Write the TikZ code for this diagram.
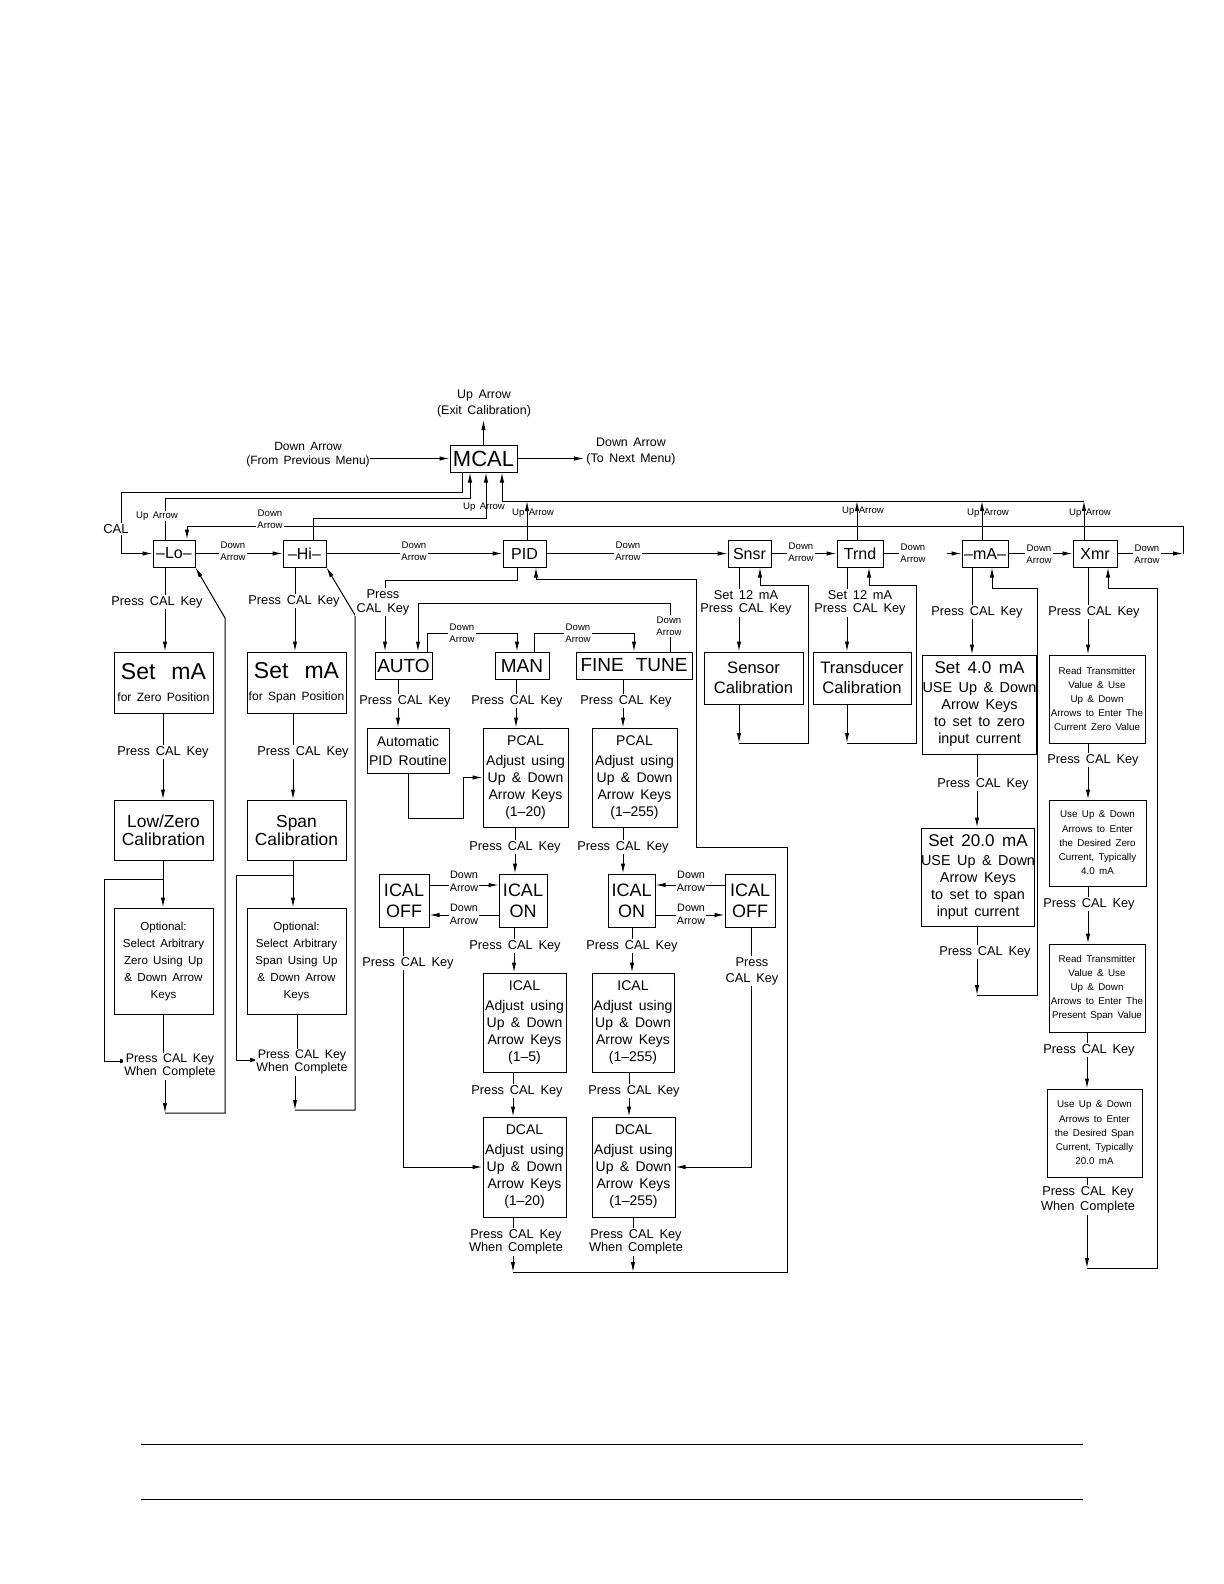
\documentclass[tikz,border=0pt]{standalone}
\usepackage{fontspec}
\setmainfont{Liberation Sans}
\usetikzlibrary{arrows.meta}
\newcommand\myfs[2]{\fontsize{#1}{#2}\selectfont\spaceskip=0.45em plus 0.1em\relax}
\begin{document}
\begin{tikzpicture}[x=0.5pt,y=-0.5pt,line width=0.5pt,
  box/.style={draw,line width=0.5pt,inner sep=0pt,align=center},
  arr/.style={-{Latex[length=5pt,width=2.2pt]}},
  lbl/.style={fill=white,inner sep=0.8pt,align=center,font=\myfs{6.4}{6.4}},
  dn/.style={fill=white,inner sep=0.5pt,align=center,font=\myfs{4.8}{6.2}},
  dnb/.style={fill=white,inner sep=0.5pt,align=center,font=\myfs{5.4}{6.4}},
  up/.style={inner sep=0pt,font=\myfs{4.8}{6}},
  key/.style={box,minimum height=13.5pt,font=\myfs{8}{9}},
  sel/.style={box,minimum height=13.5pt,font=\myfs{9.5}{10}},
  adj/.style={box,font=\myfs{7}{8.5}},
  xs/.style={box,font=\myfs{4.9}{7.1}}
]
\useasboundingbox (0,0) rectangle (1224,1584);
\fill[white] (0,0) rectangle (1224,1584);

% ---------- top ----------
\node[box,minimum width=33.5pt,minimum height=13.5pt,font=\myfs{11}{12}] (mcal) at (483.5,458.5) {MCAL};
\node[inner sep=0pt,align=center,font=\myfs{6.2}{8}] (exit) at (484,404) {Up Arrow\\(Exit Calibration)};
\node[inner sep=0pt,align=center,font=\myfs{6}{6.8}] (prev) at (308,454.5) {Down Arrow\\(From Previous Menu)};
\node[inner sep=0pt,align=center,font=\myfs{6.2}{8}] (next) at (631,452) {Down Arrow\\(To Next Menu)};

% ---------- main row ----------
\node[key,minimum width=21pt] (lo) at (174,553.5) {–Lo–};
\node[key,minimum width=21.5pt] (hi) at (304.5,553.5) {–Hi–};
\node[key,minimum width=21.5pt] (pid) at (524.5,553.5) {PID};
\node[key,minimum width=21.5pt] (snsr) at (749.5,553.5) {Snsr};
\node[key,minimum width=23pt] (trnd) at (860,553.5) {Trnd};
\node[key,minimum width=23pt] (ma) at (985,553.5) {–mA–};
\node[key,minimum width=22pt] (xmr) at (1095,553.5) {Xmr};

% ---------- Lo / Hi columns ----------
\node[box,minimum width=49.5pt,minimum height=30.5pt,font=\myfs{6}{11}] (setz) at (163.5,682.5) {\myfs{11.5}{12}Set\hspace{8pt}mA\\\myfs{6}{7}for Zero Position};
\node[box,minimum width=49.5pt,minimum height=30pt,font=\myfs{8.7}{9}] (lowz) at (163.5,830) {Low/Zero\\Calibration};
\node[box,minimum width=49.5pt,minimum height=53pt,font=\myfs{5.8}{8.5}] (optz) at (163.5,961) {Optional:\\Select Arbitrary\\Zero Using Up\\\& Down Arrow\\Keys};
\node[box,minimum width=49.5pt,minimum height=30.5pt,font=\myfs{6}{11}] (sets) at (296.5,682.5) {\myfs{11.5}{12}Set\hspace{8pt}mA\\\myfs{6}{7}for Span Position};
\node[box,minimum width=49.5pt,minimum height=30pt,font=\myfs{8.7}{9}] (span) at (296.5,830) {Span\\Calibration};
\node[box,minimum width=49.5pt,minimum height=53pt,font=\myfs{5.8}{8.5}] (opts) at (296.5,961) {Optional:\\Select Arbitrary\\Span Using Up\\\& Down Arrow\\Keys};

% ---------- PID column ----------
\node[sel,minimum width=28.5pt] (auto) at (403.5,665.5) {AUTO};
\node[sel,minimum width=27pt] (man) at (522,665.5) {MAN};
\node[sel,minimum width=58pt] (fine) at (634,665.5) {FINE\hspace{6pt}TUNE};
\node[box,minimum width=41pt,minimum height=22.5pt,font=\myfs{7}{9.5}] (apid) at (408,750.5) {Automatic\\PID Routine};
\node[adj,minimum width=42.5pt,minimum height=49.5pt] (pcal1) at (525.5,777.5) {PCAL\\[1.5pt]Adjust using\\Up \& Down\\Arrow Keys\\(1–20)};
\node[adj,minimum width=42.5pt,minimum height=49.5pt] (pcal2) at (634.5,777.5) {PCAL\\[1.5pt]Adjust using\\Up \& Down\\Arrow Keys\\(1–255)};
\node[box,minimum width=25pt,minimum height=26.5pt,font=\myfs{9}{10.5}] (off1) at (404,900.5) {ICAL\\OFF};
\node[box,minimum width=24pt,minimum height=26.5pt,font=\myfs{9}{10.5}] (on1) at (523,900.5) {ICAL\\ON};
\node[box,minimum width=23.5pt,minimum height=26.5pt,font=\myfs{9}{10.5}] (on2) at (631.5,900.5) {ICAL\\ON};
\node[box,minimum width=25pt,minimum height=26.5pt,font=\myfs{9}{10.5}] (off2) at (750,900.5) {ICAL\\OFF};
\node[adj,minimum width=41.5pt,minimum height=49.5pt] (ical1) at (524.5,1022.5) {ICAL\\[1.5pt]Adjust using\\Up \& Down\\Arrow Keys\\(1–5)};
\node[adj,minimum width=41pt,minimum height=49.5pt] (ical2) at (633,1022.5) {ICAL\\[1.5pt]Adjust using\\Up \& Down\\Arrow Keys\\(1–255)};
\node[adj,minimum width=41.5pt,minimum height=50pt] (dcal1) at (524.5,1167) {DCAL\\[1.5pt]Adjust using\\Up \& Down\\Arrow Keys\\(1–20)};
\node[adj,minimum width=41.5pt,minimum height=50pt] (dcal2) at (633.5,1167) {DCAL\\[1.5pt]Adjust using\\Up \& Down\\Arrow Keys\\(1–255)};

% ---------- Snsr / Trnd ----------
\node[box,minimum width=49.5pt,minimum height=26pt,font=\myfs{8.3}{10}] (sens) at (753.5,678) {Sensor\\Calibration};
\node[box,minimum width=49pt,minimum height=26pt,font=\myfs{8.3}{10}] (trans) at (862,678) {Transducer\\Calibration};

% ---------- mA ----------
\node[box,minimum width=51.5pt,minimum height=49.5pt,font=\myfs{7.2}{8.5}] (set4) at (979.5,704.5) {\myfs{8.5}{9}Set 4.0 mA\\[1pt]USE Up \& Down\\Arrow Keys\\to set to zero\\input current};
\node[box,minimum width=51pt,minimum height=49pt,font=\myfs{7.2}{8.5}] (set20) at (978,877) {\myfs{8.5}{9}Set 20.0 mA\\[1pt]USE Up \& Down\\Arrow Keys\\to set to span\\input current};

% ---------- Xmr ----------
\node[xs,minimum width=48pt,minimum height=44pt] (x1) at (1097,699) {Read Transmitter\\Value \& Use\\Up \& Down\\Arrows to Enter The\\Current Zero Value};
\node[xs,minimum width=48.5pt,minimum height=43pt] (x2) at (1097.5,843) {Use Up \& Down\\Arrows to Enter\\the Desired Zero\\Current, Typically\\4.0 mA};
\node[xs,minimum width=48pt,minimum height=44pt] (x3) at (1097,988) {Read Transmitter\\Value \& Use\\Up \& Down\\Arrows to Enter The\\Present Span Value};
\node[xs,minimum width=47.5pt,minimum height=44pt] (x4) at (1094.5,1133) {Use Up \& Down\\Arrows to Enter\\the Desired Span\\Current, Typically\\20.0 mA};

% ================= connectors =================
% top
\draw[arr,shorten >=1pt] (mcal.north) -- (mcal.north |- exit.south);
\draw[arr] (prev.east |- mcal.west) -- (mcal.west);
\draw[arr,shorten >=1pt] (mcal.east) -- (next.west |- mcal.east);
\draw[arr] (462,0 |- mcal.south) -- (462,492) -| (121,0 |- lo.west) -- (lo.west);
\draw[arr] (165,0 |- lo.north) |- (470,498) -- (470,0 |- mcal.south);
\draw[arr] (313,0 |- hi.north) |- (486,518) -- (486,0 |- mcal.south);
\draw[arr] (1084,501) -| (502,0 |- mcal.south);
\draw[arr] (527,0 |- pid.north) -- (527,501);
\draw[arr] (857,0 |- trnd.north) -- (857,501);
\draw[arr] (982,0 |- ma.north) -- (982,501);
\draw[arr] (1084,0 |- xmr.north) -- (1084,501);
\draw[arr] (xmr.east) -- (1183,0 |- xmr.east);
\draw[arr] (1183,0 |- xmr.east) |- (187,526) -- (187,0 |- lo.north);
% main row
\draw[arr] (lo.east) -- (hi.west);
\draw[arr] (hi.east) -- (pid.west);
\draw[arr] (pid.east) -- (snsr.west);
\draw[arr] (snsr.east) -- (trnd.west);
\draw (trnd.east) -- (925,0 |- trnd.east);
\draw[arr] (947,0 |- ma.west) -- (ma.west);
\draw[arr] (ma.east) -- (xmr.west);

% Lo column
\draw[arr] (165,0 |- lo.south) -- (165,0 |- setz.north);
\draw[arr] (163,0 |- setz.south) -- (163,0 |- lowz.north);
\draw[arr] (163,0 |- lowz.south) -- (163,0 |- optz.north);
\draw[arr] (163,879) -| (104,1061) -- (130,1061);
\draw (163,0 |- optz.south) -- (163,1062);
\draw[arr] (165,1080) -- (165,1113);
\draw[arr] (165,1113) -| (225,618) -- (lo.south east);
% Hi column
\draw[arr] (295,0 |- hi.south) -- (295,0 |- sets.north);
\draw[arr] (293,0 |- sets.south) -- (293,0 |- span.north);
\draw[arr] (293,0 |- span.south) -- (293,0 |- opts.north);
\draw[arr] (293,875) -| (236,1060) -- (260,1060);
\draw (297,0 |- opts.south) -- (297,1055);
\draw[arr] (295,1076) -- (295,1110);
\draw[arr] (295,1110) -| (355,615) -- (hi.south east);

% PID column
\draw[arr] (517,0 |- pid.south) |- (385,580) -- (385,0 |- auto.north);
\draw[arr] (670,0 |- fine.north) |- (418,603) -- (418,0 |- auto.north);
\draw[arr] (427,0 |- auto.north) |- (517,633) -- (517,0 |- man.north);
\draw[arr] (534,0 |- man.north) |- (634,633) -- (634,0 |- fine.north);
\draw[arr] (398,0 |- auto.south) -- (398,0 |- apid.north);
\draw[arr] (408,0 |- apid.south) |- (463,818) |- (pcal1.west);
\draw[arr] (516,0 |- man.south) -- (516,0 |- pcal1.north);
\draw[arr] (623,0 |- fine.south) -- (623,0 |- pcal2.north);
\draw[arr] (515,0 |- pcal1.south) -- (515,0 |- on1.north);
\draw[arr] (623,0 |- pcal2.south) -- (623,0 |- on2.north);
\draw[arr] (off1.east |- 0,885) -- (on1.west |- 0,885);
\draw[arr] (on1.west |- 0,915) -- (off1.east |- 0,915);
\draw[arr] (off2.west |- 0,885) -- (on2.east |- 0,885);
\draw[arr] (on2.east |- 0,915) -- (off2.west |- 0,915);
\draw[arr] (514,0 |- on1.south) -- (514,0 |- ical1.north);
\draw[arr] (632,0 |- on2.south) -- (632,0 |- ical2.north);
\draw[arr] (403,0 |- off1.south) |- (dcal1.west);
\draw[arr] (751,0 |- off2.south) |- (dcal2.east);
\draw[arr] (513,0 |- ical1.south) -- (513,0 |- dcal1.north);
\draw[arr] (629,0 |- ical2.south) -- (629,0 |- dcal2.north);
\draw[arr] (513,0 |- dcal1.south) -- (513,1272);
\draw[arr] (633,0 |- dcal2.south) -- (633,1272);
\draw[arr] (513,1272) -| (787,847) -| (696,579) -| (536,0 |- pid.south);

% Snsr / Trnd
\draw[arr] (739,0 |- snsr.south) -- (739,0 |- sens.north);
\draw[arr] (739,0 |- sens.south) -- (739,743);
\draw[arr] (739,743) -| (808,585) -| (760,0 |- snsr.south);
\draw[arr] (847,0 |- trnd.south) -- (847,0 |- trans.north);
\draw[arr] (847,0 |- trans.south) -- (847,743);
\draw[arr] (847,743) -| (916,585) -| (869,0 |- trnd.south);

% mA
\draw[arr] (972,0 |- ma.south) -- (972,0 |- set4.north);
\draw[arr] (977,0 |- set4.south) -- (977,0 |- set20.north);
\draw[arr] (977,0 |- set20.south) -- (977,995);
\draw[arr] (977,995) -| (1037,588) -| (992,0 |- ma.south);

% Xmr
\draw[arr] (1088,0 |- xmr.south) -- (1088,0 |- x1.north);
\draw[arr] (1088,0 |- x1.south) -- (1088,0 |- x2.north);
\draw[arr] (1088,0 |- x2.south) -- (1088,0 |- x3.north);
\draw[arr] (1087,0 |- x3.south) -- (1087,0 |- x4.north);
\draw[arr] (1087,0 |- x4.south) -- (1087,1268);
\draw[arr] (1087,1268) -| (1157,588) -| (1108,0 |- xmr.south);

% ================= labels =================
\node[up] (u0) at (484,507) {Up Arrow};
\node[up,fill=white,inner sep=0.5pt] (u1) at (157,516) {Up Arrow};
\node[up] (u2) at (533,513) {Up Arrow};
\node[up] (u3) at (863,511) {Up Arrow};
\node[up] (u4) at (988,513) {Up Arrow};
\node[up] (u5) at (1090,513) {Up Arrow};
\node[lbl,font=\myfs{6.5}{7}] (cal) at (116,529) {CAL};
\node[dn] (d0) at (270,519.5) {Down\\Arrow};
\node[dn] (d1) at (233,551) {Down\\Arrow};
\node[dn] (d2) at (414,551) {Down\\Arrow};
\node[dn] (d3) at (628,551) {Down\\Arrow};
\node[dn] (d4) at (801,552) {Down\\Arrow};
\node[dn] (d5) at (913,553) {Down\\Arrow};
\node[dn] (d6) at (1039,554) {Down\\Arrow};
\node[dn] (d7) at (1147,554) {Down\\Arrow};

\node[lbl] (l1) at (157,602) {Press CAL Key};
\node[lbl] (l2) at (163,752) {Press CAL Key};
\node[lbl,font=\myfs{6.2}{6.2}] (l3) at (170,1066) {Press CAL Key\\When Complete};
\node[lbl] (h1) at (294,601) {Press CAL Key};
\node[lbl] (h2) at (303,752) {Press CAL Key};
\node[lbl,font=\myfs{6.2}{6.2}] (h3) at (302,1062) {Press CAL Key\\When Complete};

\node[lbl,font=\myfs{6.4}{7}] (p0) at (383,602) {Press\\CAL Key};
\node[dn] (p1) at (669,626) {Down\\Arrow};
\node[dn] (p2) at (462,633.5) {Down\\Arrow};
\node[dn] (p3) at (578,633.5) {Down\\Arrow};
\node[lbl] (p4) at (405,701) {Press CAL Key};
\node[lbl] (p5) at (517,701) {Press CAL Key};
\node[lbl] (p6) at (626,701) {Press CAL Key};
\node[lbl] (p7) at (515,847) {Press CAL Key};
\node[lbl] (p8) at (623,847) {Press CAL Key};
\node[dnb] (p9) at (464,881.5) {Down\\Arrow};
\node[dnb] (p10) at (464,914) {Down\\Arrow};
\node[dnb] (p11) at (691,881.5) {Down\\Arrow};
\node[dnb] (p12) at (691,914) {Down\\Arrow};
\node[lbl] (p13) at (515,946) {Press CAL Key};
\node[lbl] (p14) at (632,946) {Press CAL Key};
\node[lbl] (p15) at (408,963) {Press CAL Key};
\node[lbl,font=\myfs{6.4}{8}] (p16) at (752,971) {Press\\CAL Key};
\node[lbl] (p17) at (517,1091) {Press CAL Key};
\node[lbl] (p18) at (634,1091) {Press CAL Key};
\node[lbl] (p19) at (516,1242) {Press CAL Key\\When Complete};
\node[lbl] (p20) at (636,1242) {Press CAL Key\\When Complete};

\node[lbl] (s1) at (746,603) {Set 12 mA\\Press CAL Key};
\node[lbl] (s2) at (860,603) {Set 12 mA\\Press CAL Key};

\node[lbl] (m1) at (977,612) {Press CAL Key};
\node[lbl] (m2) at (983,784) {Press CAL Key};
\node[lbl] (m3) at (985,952) {Press CAL Key};

\node[lbl] (x1l) at (1094,612) {Press CAL Key};
\node[lbl] (x2l) at (1093,760) {Press CAL Key};
\node[lbl] (x3l) at (1089,904) {Press CAL Key};
\node[lbl] (x4l) at (1089,1050) {Press CAL Key};
\node[lbl,font=\myfs{6.4}{7.4}] (x5l) at (1088,1200) {Press CAL Key\\When Complete};

% page rules
\draw (141,1444) -- (1083,1444);
\draw (141,1499) -- (1083,1499);
\end{tikzpicture}
\end{document}
